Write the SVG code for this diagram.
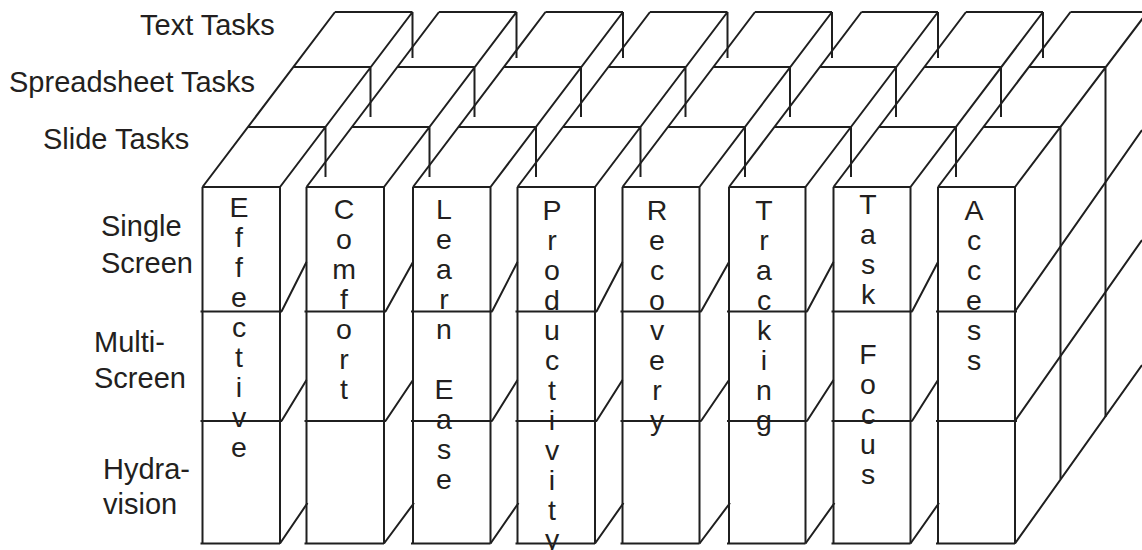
<svg xmlns="http://www.w3.org/2000/svg" width="1142" height="550" viewBox="0 0 1142 550">
<style>
.ln{fill:none;stroke:#1f1f1f;stroke-width:2;stroke-linecap:butt;stroke-linejoin:miter}
.lb{font-family:"Liberation Sans",Arial,Helvetica,sans-serif;font-size:29px;fill:#231f20}
.v{font-family:"Liberation Sans",Arial,Helvetica,sans-serif;font-size:28.5px;fill:#231f20;text-anchor:middle}
</style>
<rect width="1142" height="550" fill="#ffffff"/>
<g id="labels">
<text class="lb" x="140" y="35">Text Tasks</text>
<text class="lb" x="9" y="92">Spreadsheet Tasks</text>
<text class="lb" x="43" y="149">Slide Tasks</text>
<text class="lb" x="101" y="236">Single</text>
<text class="lb" x="101" y="272.5">Screen</text>
<text class="lb" x="94" y="351.5">Multi-</text>
<text class="lb" x="94" y="388">Screen</text>
<text class="lb" x="103" y="479">Hydra-</text>
<text class="lb" x="103" y="514">vision</text>
</g>
<g id="col-effective">
<path class="ln" d="M335,12 L202.5,187 M412.5,12 L280,187 M335,12 H412.5 M293,67 H370.5 M248,127 H325.5 M202.5,187 H280 M325.5,127 V177 M370.5,67 V117 M412.5,12 V58 M202.5,187 V543.5 M280,187 V543.5 M200.5,311.5 H282 M200.5,421 H282 M200.5,543.5 H280"/>
<text class="v"><tspan x="239" y="217">E</tspan><tspan x="239" y="247">f</tspan><tspan x="239" y="277">f</tspan><tspan x="239" y="307">e</tspan><tspan x="239" y="337">c</tspan><tspan x="239" y="367">t</tspan><tspan x="239" y="397">i</tspan><tspan x="239" y="427">v</tspan><tspan x="239" y="457">e</tspan></text>
</g>
<g id="col-comfort">
<path class="ln" d="M439,12 L306.5,187 M516.5,12 L384,187 M439,12 H516.5 M397,67 H474.5 M352,127 H429.5 M306.5,187 H384 M429.5,127 V177 M474.5,67 V117 M516.5,12 V58 M306.5,187 V543.5 M384,187 V543.5 M304.5,311.5 H386 M304.5,421 H386 M304.5,543.5 H384"/>
<text class="v"><tspan x="344" y="219">C</tspan><tspan x="344" y="249">o</tspan><tspan x="344" y="279">m</tspan><tspan x="344" y="309">f</tspan><tspan x="344" y="339">o</tspan><tspan x="344" y="369">r</tspan><tspan x="344" y="399">t</tspan></text>
</g>
<g id="col-learn-ease">
<path class="ln" d="M545.5,12 L413,187 M623,12 L490.5,187 M545.5,12 H623 M503.5,67 H581 M458.5,127 H536 M413,187 H490.5 M536,127 V177 M581,67 V117 M623,12 V58 M413,187 V543.5 M490.5,187 V543.5 M411,311.5 H492.5 M411,421 H492.5 M411,543.5 H490.5"/>
<text class="v"><tspan x="444" y="219">L</tspan><tspan x="444" y="249">e</tspan><tspan x="444" y="279">a</tspan><tspan x="444" y="309">r</tspan><tspan x="444" y="339">n</tspan><tspan x="444" y="399">E</tspan><tspan x="444" y="429">a</tspan><tspan x="444" y="459">s</tspan><tspan x="444" y="489">e</tspan></text>
</g>
<g id="col-productivity">
<path class="ln" d="M650,12 L517.5,187 M727.5,12 L595,187 M650,12 H727.5 M608,67 H685.5 M563,127 H640.5 M517.5,187 H595 M640.5,127 V177 M685.5,67 V117 M727.5,12 V58 M517.5,187 V543.5 M595,187 V543.5 M515.5,311.5 H597 M515.5,421 H597 M515.5,543.5 H595"/>
<text class="v"><tspan x="552" y="220">P</tspan><tspan x="552" y="250">r</tspan><tspan x="552" y="280">o</tspan><tspan x="552" y="310">d</tspan><tspan x="552" y="340">u</tspan><tspan x="552" y="370">c</tspan><tspan x="552" y="400">t</tspan><tspan x="552" y="430">i</tspan><tspan x="552" y="460">v</tspan><tspan x="552" y="490">i</tspan><tspan x="552" y="520">t</tspan><tspan x="552" y="549">y</tspan></text>
</g>
<g id="col-recovery">
<path class="ln" d="M755,12 L622.5,187 M832,12 L699.5,187 M755,12 H832 M713,67 H790 M668,127 H745 M622.5,187 H699.5 M745,127 V177 M790,67 V117 M832,12 V58 M622.5,187 V543.5 M699.5,187 V543.5 M620.5,311.5 H701.5 M620.5,421 H701.5 M620.5,543.5 H699.5"/>
<text class="v"><tspan x="657" y="220">R</tspan><tspan x="657" y="250">e</tspan><tspan x="657" y="280">c</tspan><tspan x="657" y="310">o</tspan><tspan x="657" y="340">v</tspan><tspan x="657" y="370">e</tspan><tspan x="657" y="400">r</tspan><tspan x="657" y="430">y</tspan></text>
</g>
<g id="col-tracking">
<path class="ln" d="M861.5,12 L729,187 M938,12 L805.5,187 M861.5,12 H938 M819.5,67 H896 M774.5,127 H851 M729,187 H805.5 M851,127 V177 M896,67 V117 M938,12 V58 M729,187 V543.5 M805.5,187 V543.5 M727,311.5 H807.5 M727,421 H807.5 M727,543.5 H805.5"/>
<text class="v"><tspan x="764" y="220">T</tspan><tspan x="764" y="250">r</tspan><tspan x="764" y="280">a</tspan><tspan x="764" y="310">c</tspan><tspan x="764" y="340">k</tspan><tspan x="764" y="370">i</tspan><tspan x="764" y="400">n</tspan><tspan x="764" y="430">g</tspan></text>
</g>
<g id="col-task-focus">
<path class="ln" d="M966,12 L833.5,187 M1043,12 L910.5,187 M966,12 H1043 M924,67 H1001 M879,127 H956 M833.5,187 H910.5 M956,127 V177 M1001,67 V117 M1043,12 V58 M833.5,187 V543.5 M910.5,187 V543.5 M831.5,311.5 H912.5 M831.5,421 H912.5 M831.5,543.5 H910.5"/>
<text class="v"><tspan x="868" y="214">T</tspan><tspan x="868" y="244">a</tspan><tspan x="868" y="274">s</tspan><tspan x="868" y="304">k</tspan><tspan x="868" y="364">F</tspan><tspan x="868" y="394">o</tspan><tspan x="868" y="424">c</tspan><tspan x="868" y="454">u</tspan><tspan x="868" y="484">s</tspan></text>
</g>
<g id="col-access">
<path class="ln" d="M1070.5,12 L938,187 M1147.5,12 L1015,187 M1070.5,12 H1147.5 M1028.5,67 H1105.5 M983.5,127 H1060.5 M938,187 H1015 M1060.5,127 V479 M1105.5,67 V417 M938,187 V543.5 M1015,187 V543.5 M936,311.5 H1017 M936,421 H1017 M936,543.5 H1015"/>
<text class="v"><tspan x="974" y="220">A</tspan><tspan x="974" y="250">c</tspan><tspan x="974" y="280">c</tspan><tspan x="974" y="310">e</tspan><tspan x="974" y="340">s</tspan><tspan x="974" y="370">s</tspan></text>
</g>
<g id="connectors">
<path class="ln" d="M281.5,311.5 L306.5,262 M281.5,421 L306.5,380 M280,543.5 L307.5,503 M385.5,311.5 L413,262 M385.5,421 L413,380 M384,543.5 L414,503 M492,311.5 L517.5,262 M492,421 L517.5,380 M490.5,543.5 L518.5,503 M596.5,311.5 L622.5,262 M596.5,421 L622.5,380 M595,543.5 L623.5,503 M701,311.5 L729,262 M701,421 L729,380 M699.5,543.5 L730,503 M807,311.5 L833.5,262 M807,421 L833.5,380 M805.5,543.5 L834.5,503 M912,311.5 L938,262 M912,421 L938,380 M910.5,543.5 L939,503 M1015,311.5 L1142,130 M1015,421 L1142,240 M1015,543.5 L1142,365"/>
</g>
</svg>
